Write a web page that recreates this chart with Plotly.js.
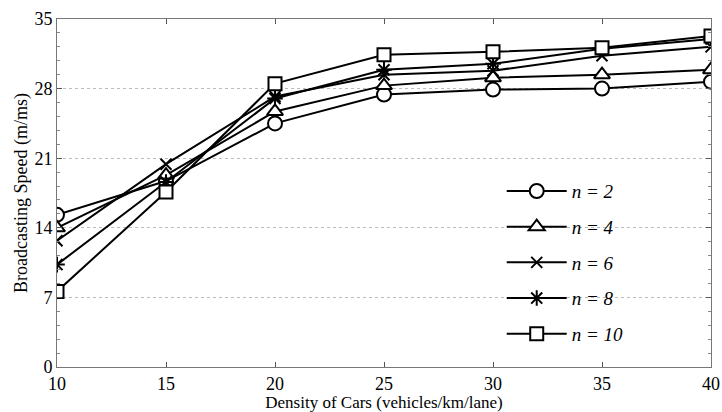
<!DOCTYPE html>
<html><head><meta charset="utf-8">
<script src="https://cdn.plot.ly/plotly-3.0.1.min.js"></script>
<style>html,body{margin:0;padding:0;background:#fff}#chart{width:722px;height:412px}</style>
</head><body><div id="chart"></div>
<script>
var density = [10, 15, 20, 25, 30, 35, 40];
var n2  = [15.3, 18.7, 24.5, 27.4, 27.9, 28.0, 28.7];
var n4  = [14.0, 19.3, 25.7, 28.3, 29.1, 29.4, 29.9];
var n6  = [12.7, 20.4, 27.2, 29.4, 29.8, 31.3, 32.2];
var n8  = [10.3, 18.6, 27.0, 29.9, 30.5, 32.0, 33.0];
var n10 = [7.6, 17.6, 28.5, 31.4, 31.7, 32.1, 33.3];
var seriesNames = ['n = 2', 'n = 4', 'n = 6', 'n = 8', 'n = 10'];
var seriesData = [n2, n4, n6, n8, n10];
var symbols = ['circle', 'triangle-up', 'x-thin-open', 'asterisk-open', 'square'];
var fills = ['#fff', '#fff', '#000', '#000', '#fff'];
var sizes = [14, 14, 11, 13, 13];
var yTicks = [0, 7, 14, 21, 28, 35];
var xTicks = [10, 15, 20, 25, 30, 35, 40];

var serif = '"Liberation Serif"';
var traces = seriesData.map(function (d, i) {
  return {
    x: density, y: d, name: seriesNames[i], type: 'scatter', mode: 'lines+markers',
    legendgroup: 'g' + i,
    line: {color: '#000', width: 2},
    marker: {symbol: symbols[i], size: sizes[i], color: fills[i], line: {color: '#000', width: 2}}
  };
});
var layout = {
  width: 722, height: 412,
  margin: {l: 57, r: 11, t: 19, b: 45},
  paper_bgcolor: '#fff', plot_bgcolor: '#fff',
  showlegend: true,
  legend: {x: 0.68, y: 0.56, xanchor: 'left', yanchor: 'top', bgcolor: 'rgba(0,0,0,0)',
           traceorder: 'grouped', tracegroupgap: 8, itemwidth: 60,
           font: {family: serif, size: 19, color: '#000', style: 'italic'}},
  xaxis: {range: [10, 40], tickvals: xTicks, ticks: 'inside', ticklen: 5, tickcolor: '#555',
          showline: true, linecolor: '#777', linewidth: 1, mirror: 'ticks', showgrid: false, zeroline: false,
          tickfont: {family: serif, size: 18, color: '#000'},
          title: {text: 'Density of Cars (vehicles/km/lane)', font: {family: serif, size: 17, color: '#000'}, standoff: 0}},
  yaxis: {range: [0, 35], tickvals: yTicks, ticks: 'inside', ticklen: 5, tickcolor: '#555',
          showline: true, linecolor: '#777', linewidth: 1, mirror: 'ticks', zeroline: false,
          showgrid: true, gridcolor: '#bbb', griddash: 'dot', gridwidth: 1,
          minor: {dtick: 1.4, tick0: 0, ticks: 'inside', ticklen: 3, tickcolor: '#888', showgrid: false},
          tickfont: {family: serif, size: 18, color: '#000'},
          title: {text: 'Broadcasting Speed (m/ms)', font: {family: serif, size: 18, color: '#000'}, standoff: 2}}
};
Plotly.newPlot('chart', traces, layout, {displayModeBar: false, staticPlot: true});
</script></body></html>
